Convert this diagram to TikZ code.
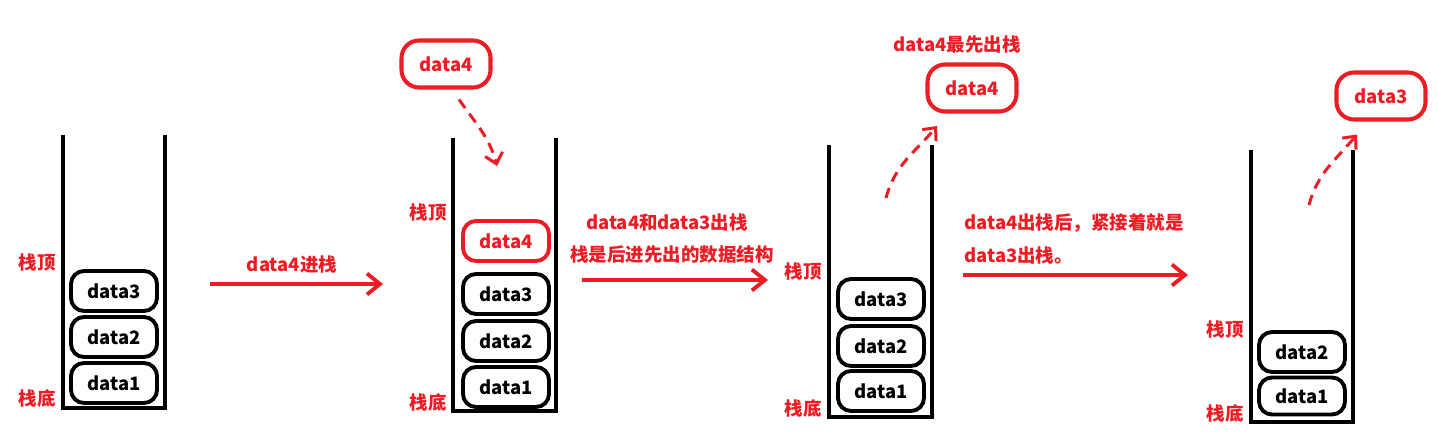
\documentclass[tikz,border=0pt]{standalone}
\usepackage{fontspec}
\setmainfont{Noto Sans CJK SC}
\usepackage{tikz}
\usetikzlibrary{arrows.meta,positioning}
\definecolor{PaintRed}{HTML}{ED1C24}
\definecolor{PaintInk}{HTML}{000000}
\tikzset{
  wall/.style={draw=PaintInk,line width=2.3pt},
  item/.style={draw=PaintInk,line width=2.2pt,rounded corners=2.6mm,
               minimum width=1.72cm,minimum height=0.8cm,inner sep=0pt,
               text=PaintInk,font=\fontsize{10.5}{12}\selectfont\bfseries},
  itemred/.style={item,draw=PaintRed,text=PaintRed},
  popped/.style={itemred,line width=2.3pt,rounded corners=3.5mm,
                 minimum width=1.78cm,minimum height=0.94cm},
  side/.style={text=PaintRed,font=\fontsize{10.5}{12}\selectfont\bfseries},
  note/.style={text=PaintRed,font=\fontsize{10.5}{12}\selectfont\bfseries,inner sep=0pt},
  push/.style={-{Straight Barb[length=2.6mm,width=4.2mm,line width=2.2pt]},
               PaintRed,line width=2.3pt},
  move/.style={-{Straight Barb[length=2mm,width=3.6mm,line width=1.7pt]},
               PaintRed,line width=1.7pt,dash pattern=on 6pt off 4pt},
}
\begin{document}
\begin{tikzpicture}[x=0.02cm,y=-0.02cm]
  \useasboundingbox (0,0) rectangle (1438,432);

  % stack 1
  \draw[wall] (63,135) -- (63,408) -- (165,408) -- (165,135);
  \node[item] (s1d3) at (114,291) {data3};
  \node[item] (s1d2) at (114,337) {data2};
  \node[item] (s1d1) at (114,383) {data1};
  \node[side] (s1top) at (37,263) {栈顶};
  \node[side] (s1bot) at (37,398) {栈底};

  \coordinate (a1from) at (210,284);
  \coordinate (a1to) at (383,284);
  \draw[push] (a1from) -- (a1to);
  \node[note] (a1text) at (292,265) {data4进栈};

  % stack 2
  \draw[wall] (453,138) -- (453,411) -- (556,411) -- (556,138);
  \node[itemred] (s2d4) at (506,241) {data4};
  \node[item] (s2d3) at (506,294) {data3};
  \node[item] (s2d2) at (506,341) {data2};
  \node[item] (s2d1) at (506,387) {data1};
  \node[side] (s2top) at (428,213) {栈顶};
  \node[side] (s2bot) at (428,402) {栈底};
  \node[popped] (in4) at (446,64) {data4};
  \coordinate (in4to) at (497,166);
  \draw[move] ([xshift=0.26cm,yshift=-0.2cm]in4.south) to[out=-55,in=105] (in4to);

  \coordinate (a2from) at (582,280);
  \coordinate (a2to) at (768,280);
  \draw[push] (a2from) -- (a2to);
  \node[note] (a2text) at (667,223) {data4和data3出栈};
  \node[note] (a2sub) at (672,255) {栈是后进先出的数据结构};

  % stack 3
  \draw[wall] (829,145) -- (829,417) -- (932,417) -- (932,145);
  \node[item] (s3d3) at (881,299) {data3};
  \node[item] (s3d2) at (881,346) {data2};
  \node[item] (s3d1) at (881,391) {data1};
  \node[side] (s3top) at (803,272) {栈顶};
  \node[side] (s3bot) at (803,408) {栈底};
  \node[popped] (out4) at (972,88) {data4};
  \node[note] (out4text) at (957,45) {data4最先出栈};
  \coordinate (out4from) at (886,198);
  \draw[move] (out4from) to[out=75,in=-130] ([xshift=-0.7cm,yshift=-0.25cm]out4.south);

  \coordinate (a3from) at (963,275);
  \coordinate (a3to) at (1188,275);
  \draw[push] (a3from) -- (a3to);
  \node[note,anchor=west] (a3text) at (964,223) {data4出栈后，紧接着就是};
  \node[note,anchor=west] (a3sub) at (964,256) {data3出栈。};

  % stack 4
  \draw[wall] (1251,150) -- (1251,422) -- (1353,422) -- (1353,150);
  \node[item] (s4d2) at (1302,352) {data2};
  \node[item,minimum height=0.74cm] (s4d1) at (1302,396) {data1};
  \node[side] (s4top) at (1225,330) {栈顶};
  \node[side] (s4bot) at (1225,413) {栈底};
  \node[popped] (out3) at (1381,96) {data3};
  \coordinate (out3from) at (1309,205);
  \draw[move] (out3from) to[out=75,in=-130] ([xshift=-0.48cm,yshift=-0.26cm]out3.south);
\end{tikzpicture}
\end{document}
